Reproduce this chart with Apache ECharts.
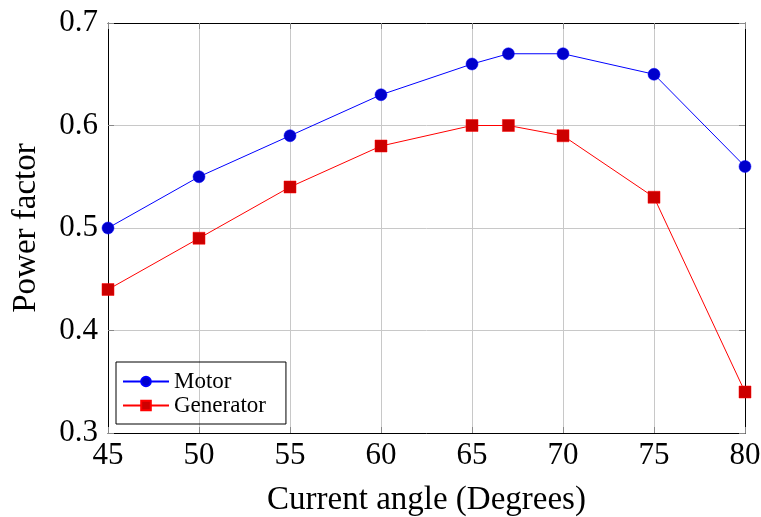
<!DOCTYPE html>
<html>
<head>
<meta charset="utf-8">
<script src="https://cdn.jsdelivr.net/npm/echarts@6/dist/echarts.min.js"></script>
<style>
  html, body { margin: 0; padding: 0; background: #fff; }
  #chart { width: 761px; height: 517px; }
</style>
</head>
<body>
<div id="chart"></div>
<script>
// current angle (degrees)
const angles = [45, 50, 55, 60, 65, 67, 70, 75, 80]
const motor = [0.50, 0.55, 0.59, 0.63, 0.66, 0.67, 0.67, 0.65, 0.56]
const generator = [0.44, 0.49, 0.54, 0.58, 0.60, 0.60, 0.59, 0.53, 0.34]

const font = 'Liberation Serif'

const chart = echarts.init(document.getElementById('chart'))

const pairs = (ys) => angles.map((x, i) => [x, ys[i]])

// mirrored axis used for the top / right frame with inner ticks
const mirror = {
  axisLabel: { show: false },
  axisLine: { show: true, onZero: false, lineStyle: { color: '#000', width: 1 } },
  axisTick: { show: true, inside: true, length: 6, lineStyle: { color: '#888' } },
  splitLine: { show: false },
}

chart.setOption({
  animation: false,
  textStyle: { fontFamily: font },
  grid: { left: 108, right: 16, top: 23, bottom: 84, outerBoundsMode: 'none' },
  legend: {
    left: 116,
    top: 362,
    orient: 'vertical',
    itemWidth: 46,
    itemHeight: 12,
    itemGap: 1,
    padding: [8, 20, 7, 6],
    borderColor: '#000',
    borderWidth: 1,
    borderRadius: 0,
    textStyle: { fontFamily: font, fontSize: 23, color: '#000' },
    data: ['Motor', 'Generator'],
  },
  xAxis: [
    {
      type: 'value',
      min: 45,
      max: 80,
      interval: 5,
      name: 'Current angle (Degrees)',
      nameLocation: 'middle',
      nameGap: 51,
      nameTextStyle: { fontFamily: font, fontSize: 33, color: '#000' },
      axisLabel: { fontFamily: font, fontSize: 31, color: '#000', margin: 7 },
      axisLine: { onZero: false, lineStyle: { color: '#000', width: 1 } },
      axisTick: { inside: true, length: 6, lineStyle: { color: '#888' } },
      splitLine: { show: true, lineStyle: { color: '#c8c8c8', width: 1 } },
    },
    Object.assign({ type: 'value', min: 45, max: 80, interval: 5, position: 'top' }, mirror),
  ],
  yAxis: [
    {
      type: 'value',
      min: 0.3,
      max: 0.7,
      interval: 0.1,
      name: 'Power factor',
      nameLocation: 'middle',
      nameGap: 65,
      nameTextStyle: { fontFamily: font, fontSize: 33, color: '#000' },
      axisLabel: {
        fontFamily: font,
        fontSize: 31,
        color: '#000',
        margin: 10,
        formatter: (v) => v.toFixed(1),
      },
      axisLine: { show: true, onZero: false, lineStyle: { color: '#000', width: 1 } },
      axisTick: { show: true, inside: true, length: 6, lineStyle: { color: '#888' } },
      splitLine: { show: true, lineStyle: { color: '#c8c8c8', width: 1 } },
    },
    Object.assign({ type: 'value', min: 0.3, max: 0.7, interval: 0.1, position: 'right' }, mirror),
  ],
  series: [
    {
      name: 'Motor',
      type: 'line',
      data: pairs(motor),
      symbol: 'circle',
      symbolSize: 12,
      lineStyle: { color: '#0000ff', width: 1 },
      itemStyle: { color: '#0000cc', borderColor: '#0000ff', borderWidth: 0.5 },
      clip: false,
      z: 3,
    },
    {
      name: 'Generator',
      type: 'line',
      data: pairs(generator),
      symbol: 'rect',
      symbolSize: 12,
      lineStyle: { color: '#ff0000', width: 1 },
      itemStyle: { color: '#cc0000', borderColor: '#ff0000', borderWidth: 0.5 },
      clip: false,
      z: 3,
    },
  ],
})
</script>
</body>
</html>
